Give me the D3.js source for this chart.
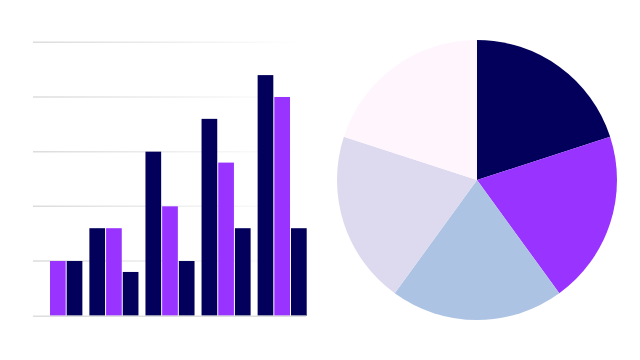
<!DOCTYPE html>
<html>
<head>
<meta charset="utf-8">
<script src="https://cdn.jsdelivr.net/npm/d3@7"></script>
<style>
  html, body { margin: 0; padding: 0; background: #fff; }
  svg { display: block; }
</style>
</head>
<body>
<svg id="chart" width="640" height="360"></svg>
<script>
// bar data: 5 groups, 3 series each
var groups = ["g1", "g2", "g3", "g4", "g5"];
var seriesA = [0, 1.6, 3, 3.6, 4.4];   // navy, first bar
var seriesB = [1, 1.6, 2, 2.8, 4];     // purple
var seriesC = [1, 0.8, 1, 1.6, 1.6];   // navy, third bar
var yTicks = [0, 1, 2, 3, 4, 5];

// pie data: five equal slices
var slices = ["s1", "s2", "s3", "s4", "s5"];
var sliceValues = [1, 1, 1, 1, 1];

var navy = "#02005a", purple = "#9933ff";
var pieColors = [navy, purple, "#adc3e4", "#dddaf0", "#fff5fd"];

var svg = d3.select("#chart");

// ---- bar chart
var x0 = d3.scaleBand().domain(groups).range([33.3, 306.7]).paddingInner(0.125).paddingOuter(0);
var x1 = d3.scaleBand().domain(["a", "b", "c"]).range([0, x0.bandwidth()]).paddingInner(0.06);
var y = d3.scaleLinear().domain([0, 5]).range([315.7, 42.3]);

var defs = svg.append("defs");
var grad = defs.append("linearGradient")
    .attr("id", "gridFade")
    .attr("gradientUnits", "userSpaceOnUse")
    .attr("x1", 33).attr("x2", 300).attr("y1", 0).attr("y2", 0);
grad.append("stop").attr("offset", "0%").attr("stop-color", "#dcdcdc").attr("stop-opacity", 1);
grad.append("stop").attr("offset", "100%").attr("stop-color", "#dcdcdc").attr("stop-opacity", 0);

svg.append("g")
  .selectAll("line")
  .data(yTicks.slice(1))
  .join("line")
    .attr("x1", 33).attr("x2", 300)
    .attr("y1", function(d) { return y(d); })
    .attr("y2", function(d) { return y(d); })
    .attr("stroke", "url(#gridFade)")
    .attr("stroke-width", 1.5);

var rows = groups.map(function(g, i) {
  return [
    { g: g, k: "a", v: seriesA[i], c: navy },
    { g: g, k: "b", v: seriesB[i], c: purple },
    { g: g, k: "c", v: seriesC[i], c: navy }
  ];
});

svg.append("g")
  .selectAll("g")
  .data(rows)
  .join("g")
    .attr("transform", function(d) { return "translate(" + x0(d[0].g) + ",0)"; })
  .selectAll("rect")
  .data(function(d) { return d.filter(function(e) { return e.v > 0; }); })
  .join("rect")
    .attr("x", function(d) { return x1(d.k); })
    .attr("width", x1.bandwidth())
    .attr("y", function(d) { return y(d.v); })
    .attr("height", function(d) { return y(0) - y(d.v); })
    .attr("fill", function(d) { return d.c; });

// baseline
svg.append("line")
    .attr("x1", 33).attr("x2", 306)
    .attr("y1", y(0) + 0.5).attr("y2", y(0) + 0.5)
    .attr("stroke", "#dedede")
    .attr("stroke-width", 1.5);

// ---- pie
var pie = d3.pie().sort(null).value(function(d) { return d; });
var arc = d3.arc().innerRadius(0).outerRadius(140);

svg.append("g")
    .attr("transform", "translate(477,180)")
  .selectAll("path")
  .data(pie(sliceValues))
  .join("path")
    .attr("d", arc)
    .attr("fill", function(d, i) { return pieColors[i]; });
</script>
</body>
</html>
